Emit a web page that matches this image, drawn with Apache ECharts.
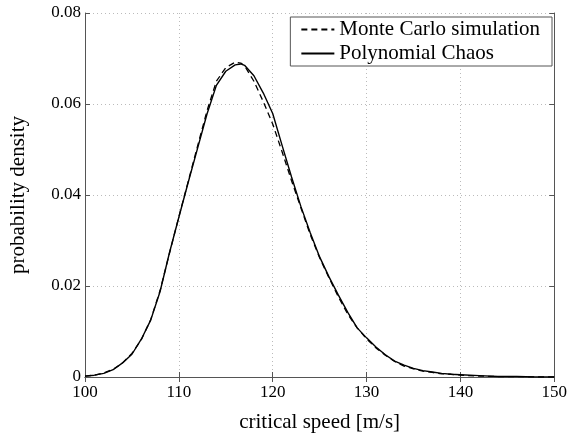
<!DOCTYPE html>
<html>
<head>
<meta charset="utf-8">
<script src="https://cdn.jsdelivr.net/npm/echarts@6/dist/echarts.min.js"></script>
<style>html,body{margin:0;padding:0;background:#fff}#c{width:570px;height:438px}</style>
</head>
<body>
<div id="c"></div>
<script>
var speeds = [100,101,102,103,104,105,106,107,108,109,110,111,112,113,114,115,116,116.6,117,118,119,120,121,122,123,124,125,126,127,128,129,130,131,132,133,134,135,136,137,138,139,140,142,144,146,148,150];
var polyChaos = [0.0002,0.0004,0.0008,0.0016,0.0031,0.0050,0.0083,0.0125,0.0188,0.0273,0.0351,0.0428,0.0503,0.0578,0.0641,0.0672,0.0686,0.0688,0.0685,0.0662,0.0624,0.0579,0.0509,0.0440,0.0375,0.0317,0.0264,0.0220,0.0180,0.0142,0.0108,0.0086,0.0066,0.0049,0.0035,0.0026,0.0019,0.0014,0.0011,0.0008,0.0006,0.0005,0.0003,0.0001,0.0001,0.0000,0.0000];
var monteCarlo = [0.0002,0.0004,0.0009,0.0017,0.0031,0.0052,0.0082,0.0126,0.0190,0.0272,0.0352,0.0430,0.0508,0.0585,0.0650,0.0680,0.0692,0.0690,0.0684,0.0650,0.0605,0.0556,0.0495,0.0432,0.0372,0.0313,0.0262,0.0218,0.0176,0.0138,0.0108,0.0084,0.0064,0.0048,0.0034,0.0024,0.0018,0.0013,0.0010,0.0007,0.0006,0.0004,0.0002,0.0001,0.0001,0.0000,0.0000];
var xTicks = [100,110,120,130,140,150];
var yTicks = ['0','0.02','0.04','0.06','0.08'];

function pairs(xs, ys){ return xs.map(function(x,i){ return [x, ys[i]]; }); }

var font = 'Liberation Serif';
var axisCol = '#555';
var chart = echarts.init(document.getElementById('c'));
var common = {
  axisLine:{show:true,lineStyle:{color:axisCol,width:1}},
  axisTick:{show:true,inside:true,length:5,lineStyle:{color:axisCol}},
};
chart.setOption({
  animation:false,
  backgroundColor:'#fff',
  grid:{left:82,right:14,top:13,bottom:52.5,containLabel:false},
  legend:{
    right:18, top:17, orient:'vertical',
    backgroundColor:'#fff', borderColor:axisCol, borderWidth:1,
    padding:[2,12,2,10], itemGap:3, itemWidth:33, itemHeight:14,
    itemStyle:{opacity:0},
    textStyle:{fontFamily:font,fontSize:21,color:'#000',padding:[0,0,0,0]},
    data:['Monte Carlo simulation','Polynomial Chaos']
  },
  xAxis:[{
    type:'value', min:100, max:150, interval:10, position:'bottom',
    name:'critical speed [m/s]', nameLocation:'middle', nameGap:35,
    nameTextStyle:{fontFamily:font,fontSize:21,color:'#000'},
    axisLabel:{fontFamily:font,fontSize:17,color:'#000',margin:7,
      formatter:function(v){return xTicks.indexOf(v)>=0?String(v):'';}},
    splitLine:{show:true,lineStyle:{color:'#bbb',type:[1,3],width:1}},
    axisLine:common.axisLine, axisTick:common.axisTick
  },{
    type:'value', min:100, max:150, interval:10, position:'top',
    axisLabel:{show:false}, splitLine:{show:false},
    axisLine:common.axisLine, axisTick:common.axisTick
  }],
  yAxis:[{
    type:'value', min:0, max:0.08, interval:0.02, position:'left',
    name:'probability density', nameLocation:'middle', nameGap:56,
    nameTextStyle:{fontFamily:font,fontSize:21,color:'#000'},
    axisLabel:{fontFamily:font,fontSize:17,color:'#000',margin:4,
      formatter:function(v){var i=Math.round(v/0.02);return yTicks[i]||'';}},
    splitLine:{show:true,lineStyle:{color:'#bbb',type:[1,3],width:1}},
    axisLine:common.axisLine, axisTick:common.axisTick
  },{
    type:'value', min:0, max:0.08, interval:0.02, position:'right',
    axisLabel:{show:false}, splitLine:{show:false},
    axisLine:common.axisLine, axisTick:common.axisTick
  }],
  series:[{
    name:'Monte Carlo simulation', type:'line', symbol:'none',
    data:pairs(speeds, monteCarlo), z:3,
    lineStyle:{color:'#000',width:1.3,type:[6,4]}, itemStyle:{color:'#000'}
  },{
    name:'Polynomial Chaos', type:'line', symbol:'none',
    data:pairs(speeds, polyChaos), z:4,
    lineStyle:{color:'#000',width:1.4,type:'solid'}, itemStyle:{color:'#000'}
  }]
});
</script>
</body>
</html>
